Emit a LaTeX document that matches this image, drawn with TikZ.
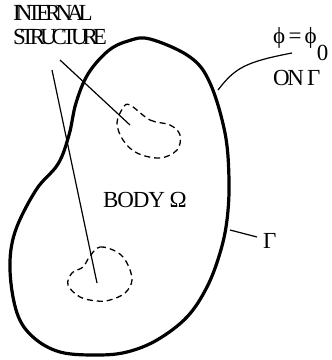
\documentclass[tikz,border=0pt]{standalone}
\usepackage{fontspec}
\setmainfont{Liberation Serif}
\newfontfamily\tightfont[LetterSpace=-11]{Liberation Serif}
\newfontfamily\midfont[LetterSpace=-5]{Liberation Serif}
\newfontfamily\tighterfont[LetterSpace=-22]{Liberation Serif}
\usetikzlibrary{positioning}

\begin{document}
\begin{tikzpicture}[x=1pt, y=-1pt,
    body/.style={line width=3.2pt, line join=round},
    incl/.style={line width=1.3pt, dash pattern=on 6pt off 4pt},
    lead/.style={line width=1.2pt},
    lbl/.style={inner sep=0pt, font=\tightfont\fontsize{23}{25}\selectfont},
    hdr/.style={lbl, font=\tighterfont\fontsize{23}{25}\selectfont}
]
\useasboundingbox (0,0) rectangle (332,360);

% Body outline Gamma
\draw[body] plot[smooth cycle, tension=0.6] coordinates {
    (150,39) (190,57) (210,83) (225,133) (229,180) (227,220) (220,253)
    (207,287) (187,317) (157,340) (127,352) (97,355) (60,352) (33,337)
    (17,313) (10,270) (15,232) (36,190) (58,164) (69,135)
    (76,103) (88,74) (108,51) (128,41)};

% internal structure, two inclusions
\draw[incl] plot[smooth cycle, tension=0.6] coordinates {
    (130,105) (150,120) (170,125) (180,135) (177,150) (160,158)
    (137,153) (123,140) (117,123) (123,108)};
\draw[incl] plot[smooth cycle, tension=0.6] coordinates {
    (90,256) (100,247) (117,252) (127,263) (132,280) (125,293)
    (110,300) (97,301) (80,297) (68,285) (72,273) (83,267)};
\coordinate (inc1) at (130,125);
\coordinate (inc2) at (97,283);

% labels
\node[hdr, anchor=base west] (intl) at (13,20) {INTERNAL};
\node[hdr, anchor=base west] (strc) at ([yshift=-24pt]intl.base west) {STRUCTURE};
\node[lbl, font=\midfont\fontsize{23}{25}\selectfont, anchor=base west] (body) at (103,207) {BODY Ω};
\node[lbl, anchor=base west] (bc) at (273,43) {ϕ = ϕ\raisebox{-17pt}{0}};
\node[lbl, anchor=base west] (on) at ([yshift=-42pt]bc.base west) {ON Γ};
\node[lbl, anchor=base west] (gam) at (263,248) {Γ};

% leader lines
\coordinate (s1) at (60,60);
\coordinate (s2) at (52,70);
\draw[lead] (s1) -- (inc1);
\draw[lead] (s2) -- (inc2);
\coordinate (g1) at (218,90);
\coordinate (g2) at (292,53);
\draw[lead] (g1) .. controls (235,68) and (245,62) .. (g2);
\coordinate (g3) at (230,230);
\coordinate (g4) at (257,237);
\draw[lead] (g3) -- (g4);

\end{tikzpicture}
\end{document}
